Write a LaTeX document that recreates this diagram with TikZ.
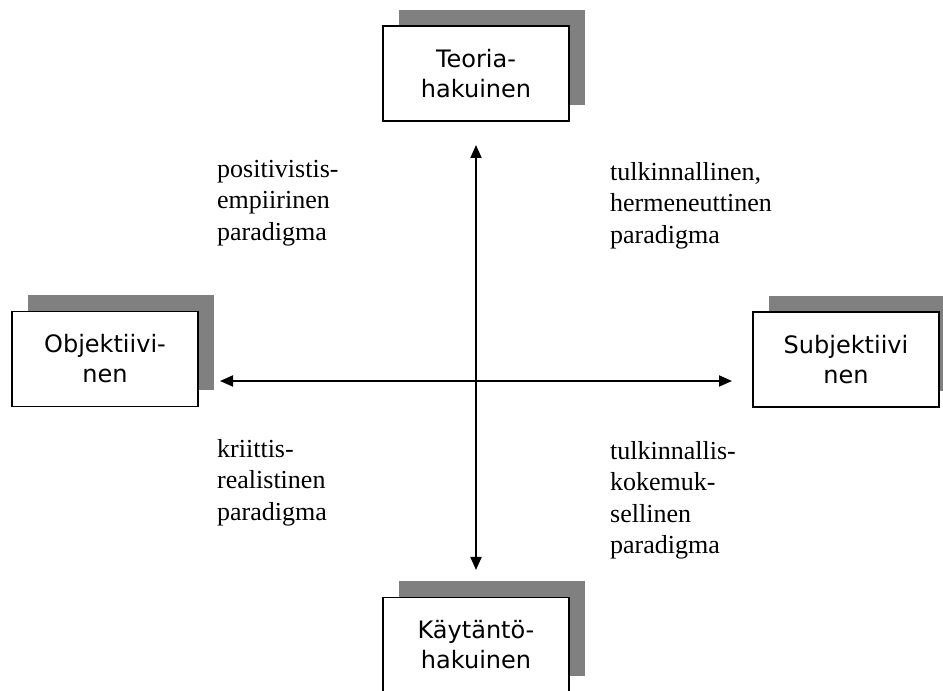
\documentclass[tikz,border=0pt]{standalone}
\usepackage{fontspec}
\setmainfont{Liberation Serif}
\newfontfamily\boxfont{DejaVu Sans}
\usetikzlibrary{arrows.meta,shadows}
\definecolor{shadowgray}{RGB}{128,128,128}
\tikzset{
  pole/.style={draw=black, line width=1.8pt, fill=white, minimum width=186pt,
    minimum height=95pt, inner sep=0pt, align=center,
    font=\boxfont\fontsize{24}{30}\selectfont,
    drop shadow={shadow xshift=16pt, shadow yshift=16pt, fill=shadowgray, opacity=1}},
  para/.style={anchor=north west, align=left, inner sep=0pt,
    font=\fontsize{26}{31.5}\selectfont},
  axis/.style={line width=1.8pt, {Triangle[length=13pt,width=11pt]}-{Triangle[length=13pt,width=11pt]}}
}
\begin{document}
\begin{tikzpicture}[x=1pt,y=1pt]
\useasboundingbox (0,0) rectangle (943,691);
% the four poles
\node[pole] (teoria) at (476,617.5) {Teoria-\\hakuinen};
\node[pole] (objekt) at (105,332) {Objektiivi-\\nen};
\node[pole] (subjekt) at (846,331.5) {Subjektiivi\\nen};
\node[pole] (kaytanto) at (476,46) {Käytäntö-\\hakuinen};
% axis end points
\coordinate (vtop) at (476,546);
\coordinate (vbot) at (476,121);
\coordinate (hleft) at (220,310);
\coordinate (hright) at (732,310);
\draw[axis] (vbot) -- (vtop);
\draw[axis] (hleft) -- (hright);
% paradigm labels
\node[para] (pe) at (217,531) {positivistis-\\empiirinen\\paradigma};
\node[para] (th) at (610,529) {tulkinnallinen,\\hermeneuttinen\\paradigma};
\node[para] (kr) at (217,252) {kriittis-\\realistinen\\paradigma};
\node[para] (tk) at (610,250) {tulkinnallis-\\kokemuk-\\sellinen\\paradigma};
\end{tikzpicture}
\end{document}
